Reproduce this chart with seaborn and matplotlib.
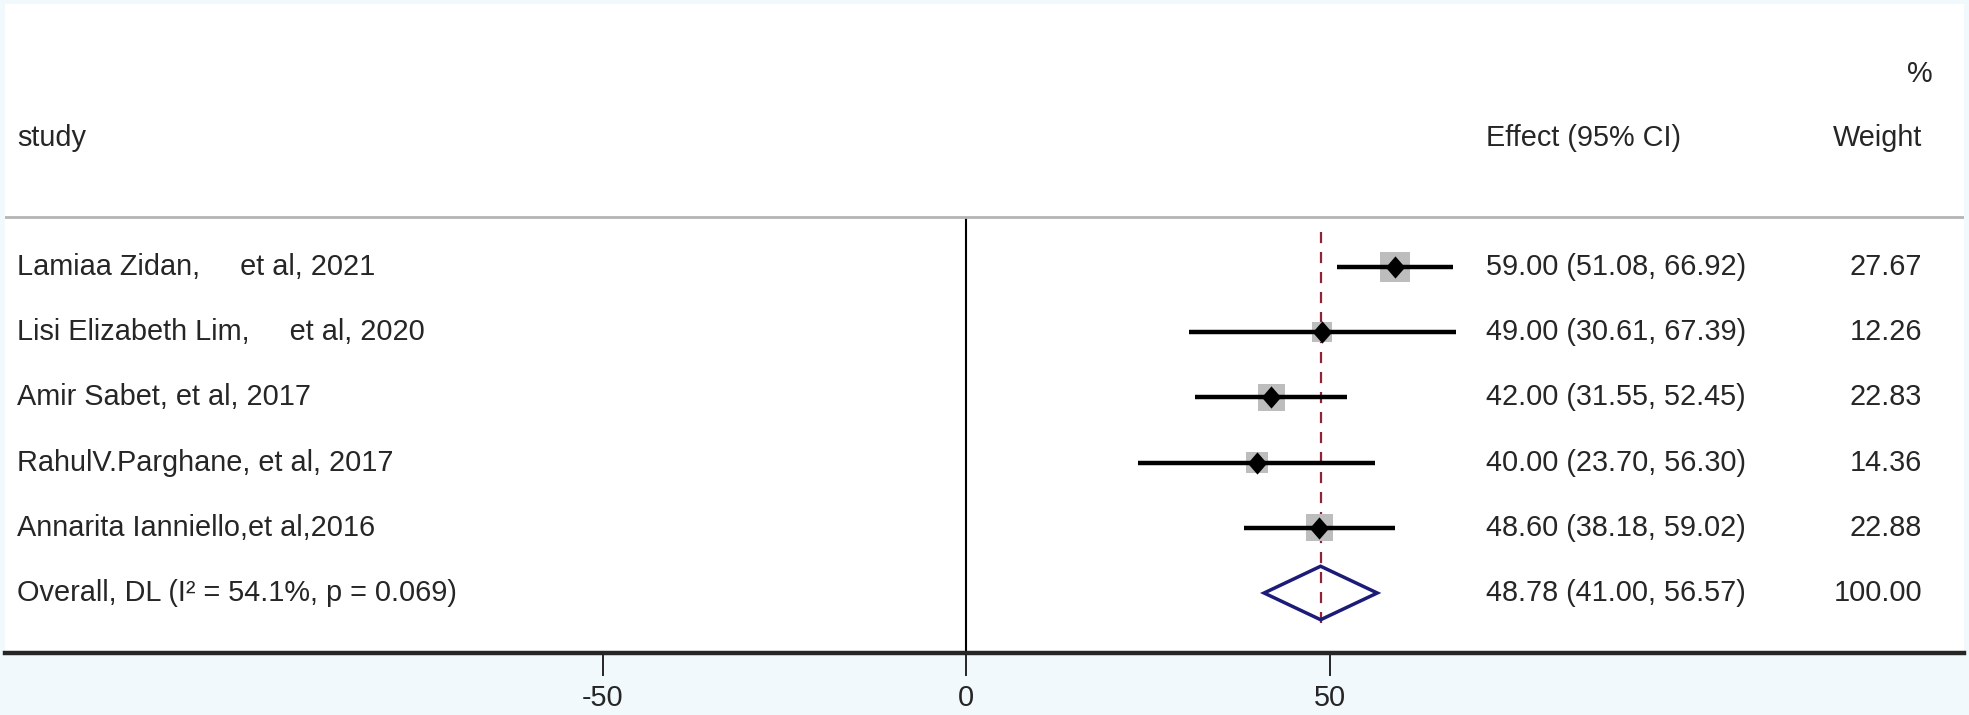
import numpy as np
import pandas as pd
import matplotlib
matplotlib.use("Agg")
import matplotlib.pyplot as plt
from matplotlib.patches import Polygon
from matplotlib.transforms import blended_transform_factory
import seaborn as sns

sns.set_style("white")
plt.rcParams['font.family'] = ['Liberation Sans', 'DejaVu Sans']

# study level data
studies = ["Lamiaa Zidan,     et al, 2021",
           "Lisi Elizabeth Lim,     et al, 2020",
           "Amir Sabet, et al, 2017",
           "RahulV.Parghane, et al, 2017",
           "Annarita Ianniello,et al,2016"]
effect = [59.00, 49.00, 42.00, 40.00, 48.60]
ci_low = [51.08, 30.61, 31.55, 23.70, 38.18]
ci_high = [66.92, 67.39, 52.45, 56.30, 59.02]
weight = [27.67, 12.26, 22.83, 14.36, 22.88]

# pooled estimate
overall_label = "Overall, DL (I\u00b2 = 54.1%, p = 0.069)"
overall_es = 48.78
overall_low = 41.00
overall_high = 56.57
overall_weight = 100.00

x_ticks = [-50, 0, 50]

W, H = 1969, 715
BG = "#f1f9fd"
NAVY = "#1c1c78"
MAROON = "#8f2438"
BOX = "#bdbdbd"

df = pd.DataFrame({"study": studies, "es": effect, "lo": ci_low,
                   "hi": ci_high, "w": weight})
df["row"] = np.arange(1, len(df) + 1)
overall_row = len(df) + 1

fig = plt.figure(figsize=(W / 100, H / 100), dpi=100, facecolor=BG)
ax = fig.add_axes([5 / W, (H - 653) / H, (1964 - 5) / W, (653 - 4) / H])
ax.set_facecolor("white")

ax.set_xlim((5 - 966) / 7.27, (1964 - 966) / 7.27)
ax.set_ylim(6.92, -3.03)

# confidence intervals
ax.hlines(df["row"], df["lo"], df["hi"], color="black", lw=3.2, zorder=3)

# weight boxes, area proportional to weight
k = 16.85
sns.scatterplot(data=df, x="es", y="row", size="w",
                sizes=(k * min(weight), k * max(weight)),
                marker="s", color=BOX, linewidth=0, legend=False,
                ax=ax, zorder=2)

# point estimates
diamond = [(0, 1.15), (1, 0), (0, -1.15), (-1, 0), (0, 1.15)]
sns.scatterplot(data=df, x="es", y="row", marker=diamond, s=16 ** 2,
                color="black", linewidth=0, legend=False, ax=ax, zorder=4)

# pooled diamond
hh = 0.41
ax.add_patch(Polygon([(overall_low, overall_row), (overall_es, overall_row - hh),
                      (overall_high, overall_row), (overall_es, overall_row + hh)],
                     closed=True, fill=False, ec=NAVY, lw=2.5, zorder=5))

# reference lines
ax.vlines(0, 0.25, 6.92, color="black", lw=1.5, zorder=1)
ax.vlines(overall_es, 0.46, 6.46, color=MAROON, lw=1.6,
          linestyles=(0, (5, 4)), zorder=1)
ax.axhline(0.24, color="#b4b4b4", lw=2.0, zorder=1)

# axis styling
for s in ["top", "left", "right"]:
    ax.spines[s].set_visible(False)
ax.spines["bottom"].set_linewidth(3.2)
ax.set_yticks([])
ax.set_xticks(x_ticks)
ax.set_xticklabels([str(t) for t in x_ticks])
ax.tick_params(axis="x", direction="out", length=16.5, width=1.4,
               labelsize=20.8, pad=6, bottom=True)
ax.set_xlabel("")
ax.set_ylabel("")

# text columns
tr = blended_transform_factory(fig.transFigure, ax.transData)
fs = 20.8
x_study, x_eff, x_wt = 17 / W, 1486 / W, 1922 / W

ax.text(x_study, -0.98, "study", transform=tr, fontsize=fs, va="center")
ax.text(x_eff, -0.98, "Effect (95% CI)", transform=tr, fontsize=fs, va="center")
ax.text(x_wt, -0.98, "Weight", transform=tr, fontsize=fs, va="center", ha="right")
ax.text(1933 / W, -1.96, "%", transform=tr, fontsize=fs, va="center", ha="right")

for _, r in df.iterrows():
    ax.text(x_study, r["row"], r["study"], transform=tr, fontsize=fs, va="center")
    ax.text(x_eff, r["row"], f"{r['es']:.2f} ({r['lo']:.2f}, {r['hi']:.2f})",
            transform=tr, fontsize=fs, va="center")
    ax.text(x_wt, r["row"], f"{r['w']:.2f}", transform=tr, fontsize=fs,
            va="center", ha="right")

ax.text(x_study, overall_row, overall_label, transform=tr, fontsize=fs, va="center")
ax.text(x_eff, overall_row,
        f"{overall_es:.2f} ({overall_low:.2f}, {overall_high:.2f})",
        transform=tr, fontsize=fs, va="center")
ax.text(x_wt, overall_row, f"{overall_weight:.2f}", transform=tr, fontsize=fs,
        va="center", ha="right")

fig.savefig("out.png", dpi=100, facecolor=BG)
